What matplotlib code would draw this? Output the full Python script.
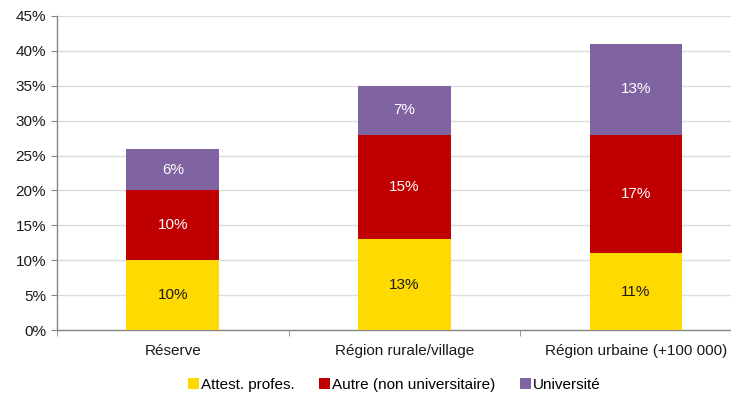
import matplotlib
matplotlib.use("Agg")
import matplotlib.pyplot as plt
import numpy as np

categories = ["Réserve", "Région rurale/village", "Région urbaine (+100 000)"]
series_names = ["Attest. profes.", "Autre (non universitaire)", "Université"]
attest = [10, 13, 11]
autre = [10, 15, 17]
universite = [6, 7, 13]
y_ticks = [0, 5, 10, 15, 20, 25, 30, 35, 40, 45]

colors = ["#FFDA00", "#C00000", "#8064A2"]
label_colors = ["#1a1a1a", "white", "white"]

plt.rcParams["font.family"] = ["Liberation Sans", "DejaVu Sans"]
FS = 11

fig = plt.figure(figsize=(7.31, 3.93), dpi=100)
ax = fig.add_axes([57 / 731, (393 - 330) / 393, (731 - 57) / 731, (330 - 16) / 393])

x = np.arange(len(categories))
bottom = np.zeros(len(categories))
handles = []
for vals, name, col, tcol in zip([attest, autre, universite], series_names, colors, label_colors):
    vals = np.array(vals, dtype=float)
    bars = ax.bar(x, vals, width=0.4, bottom=bottom, color=col, label=name, zorder=3)
    handles.append(bars)
    for xi, b, v in zip(x, bottom, vals):
        ax.text(xi, b + v / 2, f"{int(v)}%", ha="center", va="center",
                color=tcol, fontsize=FS, zorder=4)
    bottom += vals

ax.set_yticks(y_ticks)
ax.set_yticklabels([f"{t}%" for t in y_ticks], fontsize=FS, color="#1a1a1a")
ax.set_xticks(x)
ax.set_xticklabels(categories, fontsize=FS, color="#1a1a1a")
ax.set_xticks(np.arange(-0.5, len(categories) + 0.5, 1), minor=True)

# the category slots are 231.6 px wide; the plot runs off the right edge
spacing = 231.6
ax.set_xlim(-0.5, -0.5 + (731 - 57) / spacing)
ax.set_ylim(0, 45)

ax.tick_params(axis="x", which="major", length=0, pad=10)
ax.tick_params(axis="x", which="minor", length=4, color="#868686", direction="out")
ax.tick_params(axis="y", length=4, color="#868686", direction="out", pad=4)

ax.grid(axis="y", color="#DCDCDC", linewidth=1, zorder=0)
for s in ["top", "right"]:
    ax.spines[s].set_visible(False)
for s in ["left", "bottom"]:
    ax.spines[s].set_color("#868686")
    ax.spines[s].set_linewidth(1)

fig.legend(handles=handles, labels=series_names, loc="center", bbox_to_anchor=(0.539, 1 - 385 / 393),
           ncol=3, frameon=False, fontsize=FS, handlelength=0.75, handleheight=0.75,
           handletextpad=0.1, columnspacing=1.6)

fig.savefig("out.png", dpi=100)
